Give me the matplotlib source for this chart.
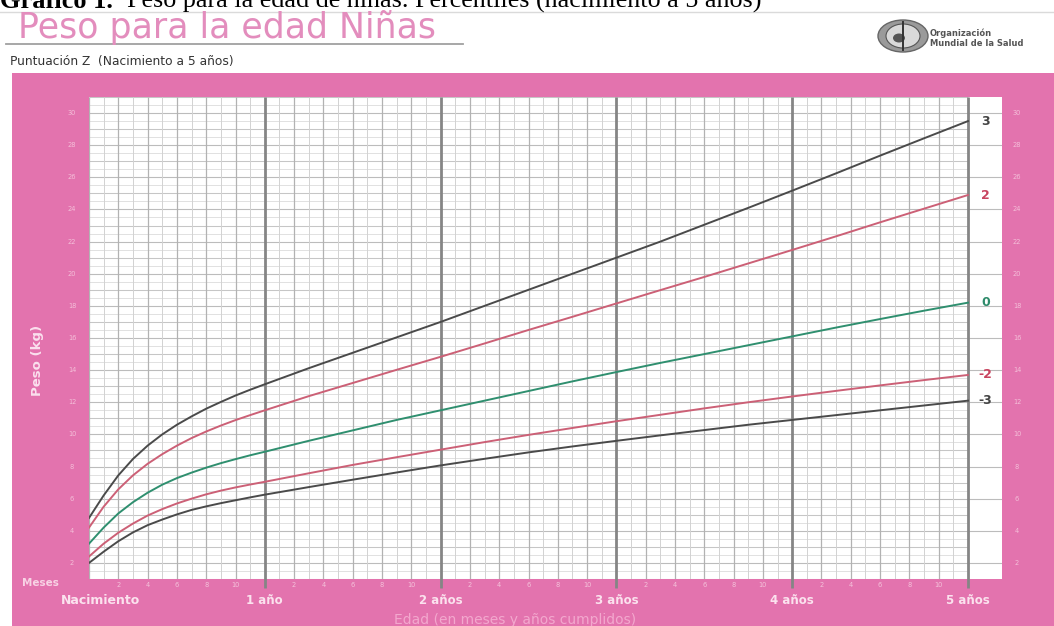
import numpy as np
import matplotlib
matplotlib.use("Agg")
from matplotlib import pyplot as plt
from matplotlib.patches import Rectangle, Ellipse
from matplotlib.lines import Line2D

# WHO weight-for-age, girls, z-score curves (kg)
months = [0, 1, 2, 3, 4, 5, 6, 7, 8, 9, 10, 11, 12, 15, 18, 21, 24, 27, 30,
          33, 36, 39, 42, 45, 48, 51, 54, 57, 60]
sd_m3 = [2.0, 2.7, 3.35, 3.9, 4.35, 4.7, 5.02, 5.3, 5.52, 5.72, 5.9, 6.08, 6.25,
         6.72, 7.18, 7.63, 8.07, 8.48, 8.88, 9.25, 9.6, 9.94, 10.27, 10.6, 10.9,
         11.2, 11.5, 11.8, 12.1]
sd_m2 = [2.4, 3.2, 3.88, 4.45, 4.95, 5.35, 5.7, 6.0, 6.27, 6.5, 6.7, 6.88, 7.05,
         7.58, 8.1, 8.58, 9.05, 9.52, 9.97, 10.4, 10.82, 11.22, 11.62, 12.0,
         12.36, 12.71, 13.05, 13.38, 13.7]
sd_0 = [3.2, 4.2, 5.08, 5.78, 6.37, 6.87, 7.28, 7.62, 7.93, 8.21, 8.46, 8.7, 8.92,
        9.6, 10.25, 10.9, 11.5, 12.1, 12.7, 13.3, 13.88, 14.45, 15.0, 15.55,
        16.1, 16.65, 17.18, 17.7, 18.2]
sd_p2 = [4.2, 5.5, 6.58, 7.45, 8.17, 8.77, 9.3, 9.77, 10.18, 10.55, 10.89, 11.2,
         11.5, 12.38, 13.2, 14.02, 14.83, 15.66, 16.5, 17.32, 18.15, 18.98, 19.8,
         20.64, 21.48, 22.33, 23.2, 24.05, 24.9]
sd_p3 = [4.8, 6.2, 7.45, 8.47, 9.3, 10.0, 10.6, 11.12, 11.6, 12.02, 12.42, 12.78,
         13.12, 14.12, 15.08, 16.04, 17.0, 18.0, 19.0, 20.0, 21.0, 22.0, 23.05,
         24.1, 25.17, 26.25, 27.35, 28.43, 29.5]

curve_labels = ['3', '2', '0', '-2', '-3']
curve_colors = ['#4a4a4a', '#cc6076', '#2f8f6f', '#cc6076', '#4a4a4a']
label_colors = ['#444444', '#c8445f', '#2e8b6b', '#c8445f', '#444444']

year_labels = ['Nacimiento', '1 año', '2 años', '3 años', '4 años', '5 años']
month_labels = ['2', '4', '6', '8', '10']
weight_ticks = list(range(2, 31, 2))

W, H = 1054, 626
PINK = '#e373ae'


def fx(px):
    return px / W


def fy(py):
    return 1 - py / H


fig = plt.figure(figsize=(W / 100, H / 100), dpi=100)
fig.patch.set_facecolor('white')

# pink panel behind the chart
fig.add_artist(Rectangle((fx(12), 0), 1 - fx(12), fy(73), transform=fig.transFigure,
                         facecolor=PINK, edgecolor='none', zorder=0))

# caption, cut off at the top like the source
fig.text(fx(0), fy(8), 'Gráfico 1.', family='Liberation Serif', fontweight='bold',
         fontsize=19, va='baseline')
fig.text(fx(127), fy(8), 'Peso para la edad de niñas. Percentiles (nacimiento a 5 años)',
         family='Liberation Serif', fontsize=18.8, va='baseline')
fig.add_artist(Line2D([0, 1], [fy(11.5)] * 2, color='#dadada', lw=1.0))

# header
fig.text(fx(18), fy(38), 'Peso para la edad Niñas', fontsize=25, color='#e38dbd',
         family='DejaVu Sans', va='baseline')
fig.add_artist(Line2D([fx(6), fx(463)], [fy(44)] * 2, color='#a0a0a0', lw=1.3))
fig.text(fx(10), fy(65), 'Puntuación Z  (Nacimiento a 5 años)', fontsize=8.8,
         color='#333333', va='baseline')

# WHO emblem (rough) and name
fig.add_artist(Ellipse((fx(903), fy(36)), 50 / W, 32 / H, transform=fig.transFigure,
                       facecolor='#9a9a9a', edgecolor='#666666', lw=1))
fig.add_artist(Ellipse((fx(903), fy(36)), 34 / W, 24 / H, transform=fig.transFigure,
                       facecolor='#d9d9d9', edgecolor='#555555', lw=0.8))
fig.add_artist(Line2D([fx(903)] * 2, [fy(22), fy(50)], color='#333333', lw=1.4))
fig.add_artist(Ellipse((fx(899), fy(38)), 12 / W, 9 / H, transform=fig.transFigure,
                       facecolor='#555555', edgecolor='none'))
fig.text(fx(930), fy(33), 'Organización', fontsize=6, fontweight='bold', color='#555555',
         va='center')
fig.text(fx(930), fy(44), 'Mundial de la Salud', fontsize=6, fontweight='bold',
         color='#555555', va='center')

# plotting area
ax_l, ax_r, ax_t, ax_b = 89, 1002, 97, 579
ax = fig.add_axes([fx(ax_l), fy(ax_b), (ax_r - ax_l) / W, (ax_b - ax_t) / H])
ax.set_facecolor('white')
xmax = (ax_r - ax_l) / 14.65
ax.set_xlim(0, xmax)
ax.set_ylim(1, 31)
for s in ax.spines.values():
    s.set_visible(False)

# grid
for y in np.arange(1, 31.01, 0.5):
    if y % 2 == 0:
        ax.hlines(y, 0, xmax, color='#bcbcbc', lw=0.8, zorder=1)
    elif y % 1 == 0:
        ax.hlines(y, 0, 60, color='#c6c6c6', lw=0.75, zorder=1)
    else:
        ax.hlines(y, 0, 60, color='#dcdcdc', lw=0.6, zorder=1)
for m in range(0, 61):
    if m % 12 == 0 and m > 0:
        ax.vlines(m, 1 - 9 / 16.07, 31, color='#858585', lw=2.0, zorder=2, clip_on=False)
    elif m % 2 == 0:
        ax.vlines(m, 1, 31, color='#b2b2b2', lw=0.9, zorder=1.5)
    else:
        ax.vlines(m, 1, 31, color='#d2d2d2', lw=0.7, zorder=1.5)

# curves
series = [sd_p3, sd_p2, sd_0, sd_m2, sd_m3]
for vals, lab, col, lcol in zip(series, curve_labels, curve_colors, label_colors):
    ax.plot(months, vals, color=col, lw=1.4, zorder=3)
    ax.text(61.2, vals[-1], lab, color=lcol, fontsize=9, fontweight='bold',
            ha='center', va='center', zorder=4)

# month ticks
mticks = [12 * yr + int(m) for yr in range(5) for m in month_labels]
ax.set_xticks(mticks)
ax.set_xticklabels(month_labels * 5)
ax.tick_params(axis='x', length=0, labelsize=4.8, labelcolor='#f4c3db', pad=2.5)
ax.set_yticks([])

# weight labels on both sides
ytr = ax.get_yaxis_transform()
for w in weight_ticks:
    ax.text((72 - ax_l) / (ax_r - ax_l), w, str(w), transform=ytr, fontsize=4.8,
            color='#f4bfd9', ha='center', va='center')
    ax.text((1017 - ax_l) / (ax_r - ax_l), w, str(w), transform=ytr, fontsize=4.8,
            color='#f4bfd9', ha='center', va='center')

# year labels
xtr = ax.get_xaxis_transform()
ydown = (ax_b - 601) / (ax_b - ax_t)
ax.text(-1.9, ydown, year_labels[0], transform=xtr, fontsize=9, fontweight='bold',
        color='#fbe2ee', ha='left', va='center')
for i, lab in enumerate(year_labels[1:], start=1):
    ax.text(12 * i, ydown, lab, transform=xtr, fontsize=8.5, fontweight='bold',
            color='#fbe2ee', ha='center', va='center')

fig.text(fx(22), fy(583), 'Meses', fontsize=7.5, fontweight='bold', color='#f8d3e5',
         va='center')
fig.text(fx(515), fy(620), 'Edad (en meses y años cumplidos)', fontsize=10,
         color='#f3a8ce', ha='center', va='center')
fig.text(fx(37), fy(360), 'Peso (kg)', fontsize=9.5, fontweight='bold', color='#fbe0ee',
         rotation=90, ha='center', va='center')

plt.savefig('out.png', dpi=100)
